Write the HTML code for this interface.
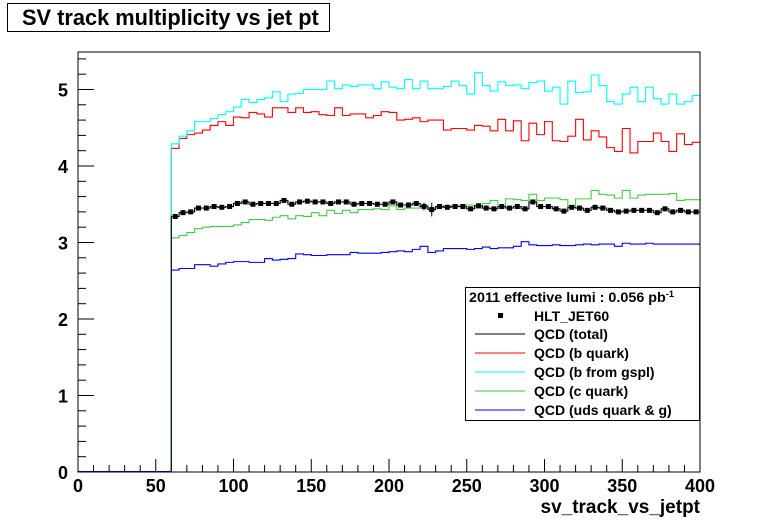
<!DOCTYPE html>
<html><head><meta charset="utf-8"><style>
html,body{margin:0;padding:0;background:#fff;}
svg{display:block;font-family:"Liberation Sans",Arial,sans-serif;}
</style></head><body>
<svg id="c" width="778" height="524" viewBox="0 0 778 524" xmlns="http://www.w3.org/2000/svg">
<rect x="0" y="0" width="778" height="524" fill="#fff"/>
<g>
<rect x="7.5" y="3.5" width="322" height="28" fill="#fff" stroke="#000"/>
<text x="22" y="25" font-size="21.8" font-weight="bold">SV track multiplicity vs jet pt</text>
</g>
<g id="axes"></g>
<g id="plot"></g>
<rect x="78" y="52" width="622" height="420" fill="none" stroke="#000" stroke-width="1"/>
<text x="700" y="513" font-size="19" font-weight="bold" text-anchor="end">sv_track_vs_jetpt</text>
<g>
<rect x="465.5" y="287.5" width="234" height="133" fill="#fff" stroke="#000"/>
<text x="469" y="302" font-size="14" font-weight="bold" textLength="205" lengthAdjust="spacingAndGlyphs">2011 effective lumi : 0.056  pb<tspan dy="-5" font-size="9">-1</tspan></text>
<rect x="498" y="313" width="5" height="5" fill="#000"/>
<text x="534" y="321" font-size="14" font-weight="bold">HLT_JET60</text>
<line x1="475" y1="334" x2="525" y2="334" stroke="#000"/>
<text x="534" y="339" font-size="14" font-weight="bold">QCD (total)</text>
<line x1="475" y1="353" x2="525" y2="353" stroke="#f00"/>
<text x="534" y="358" font-size="14" font-weight="bold">QCD (b quark)</text>
<line x1="475" y1="372" x2="525" y2="372" stroke="#0ff"/>
<text x="534" y="377" font-size="14" font-weight="bold">QCD (b from gspl)</text>
<line x1="475" y1="391" x2="525" y2="391" stroke="#3c3"/>
<text x="534" y="396" font-size="14" font-weight="bold">QCD (c quark)</text>
<line x1="475" y1="410" x2="525" y2="410" stroke="#00f"/>
<text x="534" y="415" font-size="14" font-weight="bold">QCD (uds quark &amp; g)</text>
</g>
</svg>
<script>
const binStart = 60, binWidth = 5;
const xTicks = [0,50,100,150,200,250,300,350,400];
const yTicks = [0,1,2,3,4,5];
const cyanVals = [4.29,4.39,4.46,4.58,4.58,4.62,4.67,4.71,4.77,4.87,4.83,4.87,4.89,4.97,4.84,4.94,4.95,5.00,5.00,5.00,5.11,5.01,5.06,5.04,5.06,5.06,5.01,5.10,5.03,5.01,5.13,5.01,5.11,5.01,5.01,5.04,5.11,5.05,4.94,5.22,5.05,4.98,5.10,5.05,5.06,5.01,5.09,5.11,4.98,5.03,4.81,5.11,4.96,4.97,5.19,5.05,4.84,4.81,4.94,5.03,4.84,5.03,4.88,4.81,4.94,4.81,4.84,4.92];
const redVals = [4.23,4.36,4.41,4.43,4.47,4.53,4.58,4.53,4.64,4.63,4.70,4.68,4.64,4.76,4.76,4.70,4.76,4.70,4.71,4.67,4.66,4.76,4.66,4.68,4.68,4.63,4.66,4.71,4.70,4.60,4.61,4.63,4.58,4.60,4.60,4.47,4.49,4.49,4.47,4.53,4.52,4.46,4.61,4.46,4.59,4.33,4.56,4.41,4.58,4.33,4.32,4.39,4.61,4.34,4.46,4.38,4.24,4.19,4.49,4.17,4.32,4.32,4.43,4.32,4.19,4.42,4.28,4.31];
const greenVals = [3.06,3.09,3.13,3.18,3.20,3.21,3.21,3.21,3.23,3.26,3.30,3.30,3.29,3.33,3.35,3.31,3.35,3.34,3.39,3.35,3.42,3.38,3.42,3.39,3.43,3.43,3.44,3.43,3.48,3.43,3.45,3.45,3.49,3.45,3.46,3.48,3.48,3.49,3.49,3.45,3.51,3.55,3.47,3.57,3.56,3.55,3.63,3.55,3.58,3.58,3.56,3.48,3.57,3.57,3.68,3.63,3.62,3.58,3.68,3.58,3.62,3.63,3.63,3.63,3.64,3.55,3.56,3.56];
const blueVals = [2.64,2.66,2.66,2.71,2.71,2.69,2.72,2.74,2.75,2.75,2.74,2.74,2.79,2.77,2.78,2.79,2.85,2.84,2.83,2.83,2.84,2.84,2.84,2.87,2.86,2.86,2.86,2.87,2.88,2.89,2.88,2.91,2.95,2.87,2.89,2.92,2.92,2.92,2.91,2.92,2.94,2.92,2.93,2.93,2.95,3.01,2.97,2.96,2.96,2.97,2.96,2.96,2.97,2.98,2.97,2.98,2.98,2.95,2.99,2.98,2.98,2.99,2.98,2.98,2.98,2.98,2.98,2.98];
const dataVals = [3.34,3.39,3.40,3.45,3.45,3.47,3.46,3.47,3.51,3.53,3.50,3.51,3.51,3.51,3.55,3.50,3.53,3.54,3.53,3.53,3.51,3.53,3.53,3.50,3.51,3.51,3.50,3.50,3.53,3.49,3.49,3.51,3.47,3.43,3.47,3.46,3.47,3.47,3.44,3.48,3.45,3.44,3.47,3.45,3.47,3.44,3.53,3.47,3.47,3.44,3.41,3.46,3.45,3.42,3.46,3.45,3.42,3.40,3.41,3.42,3.42,3.42,3.39,3.44,3.40,3.42,3.40,3.40];
const dataErrs = [0.02,0.02,0.02,0.02,0.02,0.02,0.02,0.02,0.02,0.02,0.02,0.02,0.02,0.02,0.02,0.02,0.02,0.02,0.02,0.02,0.02,0.02,0.02,0.02,0.02,0.02,0.02,0.02,0.02,0.02,0.02,0.02,0.05,0.09,0.02,0.02,0.02,0.02,0.02,0.02,0.02,0.02,0.02,0.02,0.02,0.02,0.02,0.02,0.02,0.02,0.02,0.02,0.02,0.02,0.02,0.02,0.02,0.02,0.02,0.02,0.02,0.02,0.02,0.02,0.02,0.02,0.02,0.02];
const totalVals = dataVals.slice();

const X0=78,X1=700,Y0=472,YMAX=5.49;
const xs = v => X0 + (v/400)*(X1-X0);
const ys = v => Y0 - (v/YMAX)*(Y0-52);
const NS="http://www.w3.org/2000/svg";
const axes=document.getElementById('axes'), plot=document.getElementById('plot');
function mk(tag, attrs, parent){const e=document.createElementNS(NS,tag);for(const k in attrs)e.setAttribute(k,attrs[k]);parent.appendChild(e);return e;}

for(let v=0; v<=400; v+=10){
  const major = v%50===0;
  const t=mk('line',{x1:xs(v),x2:xs(v),y1:Y0,y2:Y0-(major?13:7),stroke:'#000'},axes);
  
  
}
xTicks.forEach(v=>{
  const t=mk('text',{x:xs(v),y:Y0+20,'font-size':18,'font-weight':'bold','text-anchor':'middle'},axes);
  t.textContent=v;
  
  
});
for(let i=0;i<=27;i++){
  const v=i*0.2; const major=i%5===0;
  const t=mk('line',{x1:X0,x2:X0+(major?16:8),y1:ys(v),y2:ys(v),stroke:'#000'},axes);
  
  
}
yTicks.forEach(v=>{
  const t=mk('text',{x:X0-10,y:ys(v)+7,'font-size':18,'font-weight':'bold','text-anchor':'end'},axes);
  t.textContent=v;
  
  
});

function hist(vals,color,name){
  let d='M'+xs(binStart)+','+ys(0);
  vals.forEach((v,i)=>{
    const a=binStart+i*binWidth;
    d+=' L'+xs(a)+','+ys(v)+' L'+xs(a+binWidth)+','+ys(v);
  });
  const p=mk('path',{d:d,fill:'none',stroke:color,'stroke-width':1.1},plot);
  
  
}
const bl=mk('line',{x1:X0,x2:xs(binStart),y1:Y0-0.5,y2:Y0-0.5,stroke:'#00f'},plot);


hist(blueVals,'#00f','hist-uds');
hist(greenVals,'#4c4','hist-c-quark');
hist(redVals,'#f00','hist-b-quark');
hist(cyanVals,'#0ff','hist-b-gspl');
hist(totalVals,'#000','hist-total');
dataVals.forEach((v,i)=>{
  const c=binStart+(i+0.5)*binWidth, e=dataErrs[i];
  const l=mk('line',{x1:xs(c),x2:xs(c),y1:ys(v-e),y2:ys(v+e),stroke:'#000'},plot);
  
  
  const m=mk('rect',{x:xs(c)-2.5,y:ys(v)-2.5,width:5,height:5,fill:'#000'},plot);
  
  
});
</script>
</body></html>
